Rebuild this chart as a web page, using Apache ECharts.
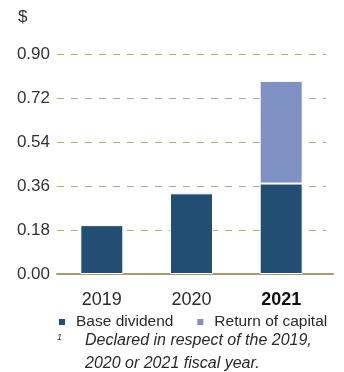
<!DOCTYPE html>
<html>
<head>
<meta charset="utf-8">
<script src="https://cdn.jsdelivr.net/npm/echarts@6/dist/echarts.min.js"></script>
<style>
  html, body { margin: 0; padding: 0; background: #fff; }
  #chart { width: 344px; height: 372px; }
</style>
</head>
<body>
<div id="chart"></div>
<script>
// Dividends per share, by fiscal year
const years = ['2019', '2020', '2021'];
const baseDividend = [0.20, 0.33, 0.37];
const returnOfCapital = [null, null, 0.42];
const yTicks = { min: 0, max: 0.9, step: 0.18 };
const seriesNames = ['Base dividend', 'Return of capital'];
const footnote = ['Declared in respect of the 2019,', '2020 or 2021 fiscal year.'];

const FONT = '"Liberation Sans", Arial, Helvetica, sans-serif';
const DARK = '#234e74';
const LIGHT = '#7f90c3';
const GRID_LINE = '#b3a97c';
const AXIS_LINE = '#a69c68';

const chart = echarts.init(document.getElementById('chart'), null, { renderer: 'canvas' });

const option = {
  animation: false,
  backgroundColor: '#fff',
  textStyle: { fontFamily: FONT },
  grid: [
    { left: 57, right: 18, top: 54, bottom: 98, containLabel: false },
    // a wider frame only used to carry the baseline out past the last bar
    { left: 57, right: 11, top: 54, bottom: 98, containLabel: false }
  ],
  xAxis: [
    {
      type: 'category',
      gridIndex: 0,
      data: years,
      axisLine: { show: false },
      axisTick: { show: false },
      axisLabel: {
        margin: 17,
        fontSize: 18,
        fontFamily: FONT,
        color: '#2a2a2a',
        formatter: function (v) { return v === '2021' ? '{b|' + v + '}' : v; },
        rich: { b: { fontWeight: 'bold', fontSize: 18, fontFamily: FONT, color: '#111' } }
      }
    },
    {
      type: 'value',
      gridIndex: 1,
      min: 0, max: 1,
      axisLine: { show: true, onZero: false, lineStyle: { color: AXIS_LINE, width: 2 } },
      axisTick: { show: false },
      axisLabel: { show: false },
      splitLine: { show: false }
    }
  ],
  yAxis: [
    {
      type: 'value',
      gridIndex: 0,
      min: yTicks.min,
      max: yTicks.max,
      interval: yTicks.step,
      name: '$',
      nameLocation: 'end',
      nameGap: 28,
      nameTextStyle: { fontSize: 17, fontFamily: FONT, color: '#333', align: 'left', padding: [0, 0, 0, -39] },
      axisLine: { show: false },
      axisTick: { show: false },
      axisLabel: {
        margin: 7,
        fontSize: 17,
        fontFamily: FONT,
        color: '#333',
        formatter: function (v) { return v.toFixed(2); }
      },
      splitLine: {
        show: true,
        lineStyle: { color: GRID_LINE, width: 1, type: [7, 7] }
      }
    },
    {
      type: 'value',
      gridIndex: 1,
      show: false,
      min: 0, max: 1
    }
  ],
  legend: {
    left: 52,
    top: 309,
    icon: 'rect',
    itemWidth: 8,
    itemHeight: 8,
    itemGap: 22,
    selectedMode: false,
    textStyle: { fontSize: 15.5, fontFamily: FONT, color: '#2a2a2a', padding: [0, 0, 0, 5] },
    data: seriesNames
  },
  series: [
    {
      name: seriesNames[0],
      type: 'bar',
      xAxisIndex: 0,
      yAxisIndex: 0,
      stack: 'total',
      barWidth: 43,
      data: baseDividend,
      itemStyle: { color: DARK, borderColor: '#fff', borderWidth: 1 }
    },
    {
      name: seriesNames[1],
      type: 'bar',
      xAxisIndex: 0,
      yAxisIndex: 0,
      stack: 'total',
      barWidth: 43,
      data: returnOfCapital,
      itemStyle: { color: LIGHT, borderColor: '#fff', borderWidth: 1 }
    }
  ],
  graphic: [
    {
      type: 'text', left: 57, top: 333,
      style: { text: '1', font: 'italic 9px ' + FONT, fill: '#333' }
    },
    {
      type: 'text', left: 85, top: 333,
      style: { text: footnote[0], font: 'italic 16px ' + FONT, fill: '#2a2a2a' }
    },
    {
      type: 'text', left: 85, top: 356,
      style: { text: footnote[1], font: 'italic 16px ' + FONT, fill: '#2a2a2a' }
    }
  ]
};

chart.setOption(option);
</script>
</body>
</html>
